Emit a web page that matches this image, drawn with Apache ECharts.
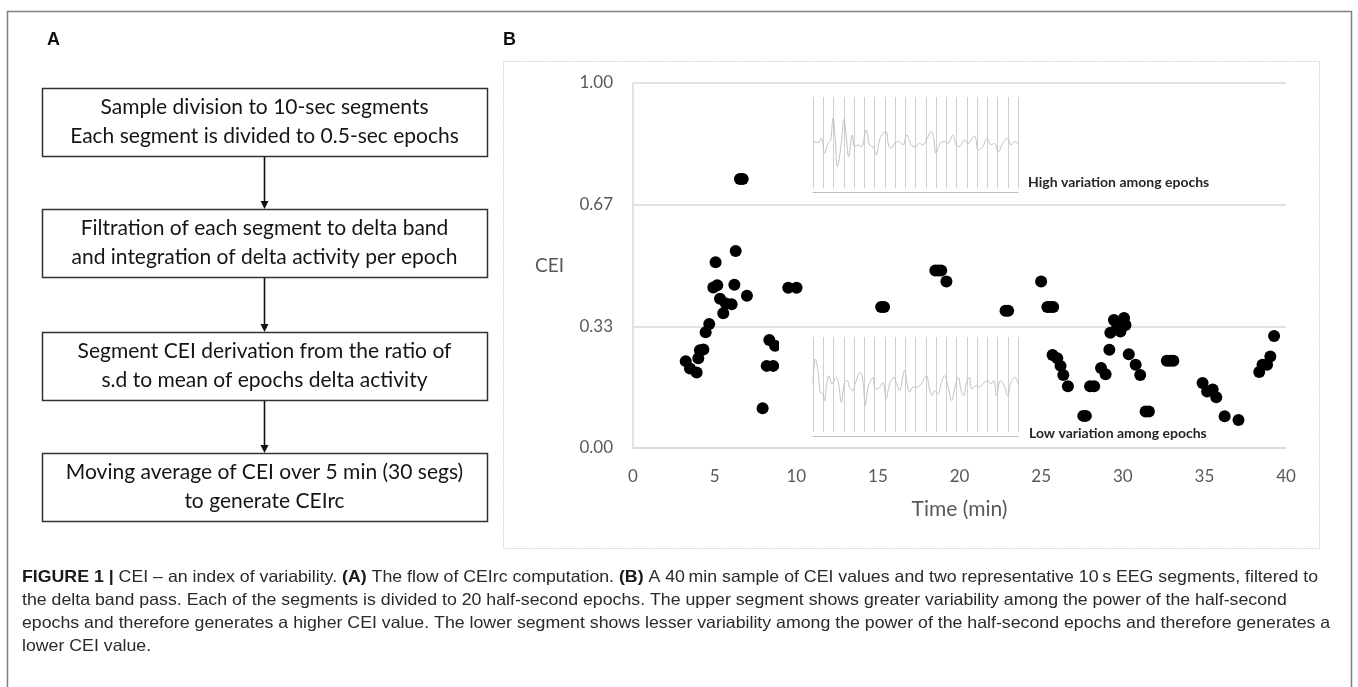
<!DOCTYPE html>
<html><head><meta charset="utf-8">
<script src="https://cdn.jsdelivr.net/npm/echarts@6/dist/echarts.min.js"></script>
<style>html,body{margin:0;padding:0;background:#fff}#c{width:1358px;height:687px}</style>
</head><body><div id="c"></div>
<script>
// ---------- DATA ----------
const yTickLabels = ['0.00', '0.33', '0.67', '1.00'];
const timeMin = [
  3.23, 3.49, 3.90, 4.00, 4.10, 4.31, 4.45, 4.67, 4.92, 5.16, 5.06, 5.33, 5.53, 5.69, 6.04, 6.21, 6.29, 6.98,
  6.55, 6.72,
  7.94, 8.19, 8.35, 8.59, 8.70,
  9.51, 10.02,
  15.20, 15.38,
  18.52, 18.70, 18.88, 19.20,
  22.82, 22.98,
  25.00, 25.38, 25.56, 25.74,
  25.70, 25.99, 26.19, 26.36, 26.64,
  27.58, 27.74,
  28.00, 28.25, 28.67, 28.95, 29.18, 29.24, 29.46, 29.66, 29.86, 30.08, 30.17, 30.37, 30.79, 31.07,
  31.40, 31.60,
  32.70, 32.90, 33.10,
  34.89, 35.17, 35.51, 35.73, 36.24, 37.09,
  38.36, 38.56, 38.84, 39.04, 39.27
];
const ceiValues = [
  0.238, 0.218, 0.207, 0.246, 0.268, 0.270, 0.317, 0.340, 0.440, 0.446, 0.509, 0.409, 0.369, 0.396, 0.394, 0.447, 0.540, 0.417,
  0.737, 0.737,
  0.109, 0.225, 0.296, 0.225, 0.280,
  0.439, 0.439,
  0.386, 0.386,
  0.486, 0.486, 0.486, 0.456,
  0.376, 0.376,
  0.456, 0.386, 0.386, 0.386,
  0.255, 0.246, 0.225, 0.200, 0.169,
  0.088, 0.088,
  0.169, 0.169, 0.219, 0.202, 0.269, 0.316, 0.351, 0.333, 0.319, 0.356, 0.337, 0.257, 0.228, 0.200,
  0.100, 0.100,
  0.239, 0.239, 0.239,
  0.178, 0.155, 0.160, 0.139, 0.087, 0.077,
  0.208, 0.228, 0.228, 0.251, 0.307
];
// inset waveforms (epoch position, amplitude)
const highVarEpoch = [0.00,0.49,0.81,1.14,1.46,1.72,1.95,2.18,2.37,2.76,3.02,3.28,3.47,3.83,4.06,4.38,4.71,5.19,5.52,5.84,6.17,6.49,6.82,7.14,7.37,7.63,8.02,8.44,8.77,9.16,9.58,9.97,10.39,10.71,11.14,11.53,11.79,12.01,12.40,12.82,13.15,13.64,13.96,14.29,14.77,15.10,15.75,16.14,16.56,16.98,17.37,17.69,18.08,18.51,18.99,19.32,19.71,20.00];
const highVarAmp = [0.3,0,1.3,-3.2,-0.2,0.8,7.3,0.8,-7.2,-0.2,7.0,0.8,-4.2,2.3,-1.2,-0.7,-1.2,3.8,-0.7,-1.2,-3.7,0.8,2.8,3.3,-0.7,-1.7,0,0.3,-0.7,2.3,-0.7,-1.2,-0.2,-0.7,1.3,3.3,0.8,-3.2,-0.2,0.3,-0.2,2.3,-0.7,-1.2,0.8,-0.2,2.0,-2.2,-1.2,1.3,-0.7,-0.2,-2.7,-0.2,1.3,-0.7,0.3,-0.4];
const lowVarEpoch = [0,0.23,0.49,0.71,0.97,1.14,1.30,1.56,1.85,2.27,2.50,2.76,3.08,3.34,3.57,3.90,4.12,4.61,4.87,5.10,5.36,5.62,5.84,6.10,6.49,6.82,7.14,7.47,7.89,8.12,8.44,8.93,9.19,9.42,9.74,10.06,10.55,11.04,11.36,11.59,11.85,12.18,12.50,12.82,13.15,13.54,13.80,14.19,14.45,14.71,14.94,15.26,15.49,15.91,16.23,16.56,17.05,17.37,17.63,17.92,18.28,18.67,18.99,19.32,19.71,20.00];
const lowVarAmp = [0,7.5,4.0,-2.5,-3.0,-5.0,-1.0,2.5,0,2.0,0,-5.5,0.5,1.0,-1.0,-2.0,0.2,3.5,1.0,-6.5,-1.0,1.0,2.0,-1.5,-1.0,0.5,-4.5,0,2.0,0.5,-2.0,4.0,0,-2.5,-1.0,-1.0,0,2.5,-1.5,-3.5,-2.0,-3.0,0,2.5,-0.5,-5.0,-1.5,2.0,-2.0,-3.5,0,2.0,-1.5,-0.5,-1.0,0,1.0,0,1.0,-3.5,1.0,-0.5,-3.5,0.5,2.0,0];
const insetLabels = ['High variation among epochs', 'Low variation among epochs'];
const flowSteps = [
  ['Sample division to 10-sec segments', 'Each segment is divided to 0.5-sec epochs'],
  ['Filtration of each segment to delta band', 'and integration of delta activity per epoch'],
  ['Segment CEI derivation from the ratio of', 's.d to mean of epochs delta activity'],
  ['Moving average of CEI over 5 min (30 segs)', 'to generate CEIrc']
];
const captionLines = [
  [[1, 'FIGURE 1 | '], [0, 'CEI \u2013 an index of variability. '], [1, '(A)'], [0, ' The flow of CEIrc computation. '], [1, '(B)'], [0, ' A 40\u2009min sample of CEI values and two representative 10\u2009s EEG segments, filtered to']],
  [[0, 'the delta band pass. Each of the segments is divided to 20 half-second epochs. The upper segment shows greater variability among the power of the half-second']],
  [[0, 'epochs and therefore generates a higher CEI value. The lower segment shows lesser variability among the power of the half-second epochs and therefore generates a']],
  [[0, 'lower CEI value.']]
];

// ---------- LAYOUT ----------
const chart = echarts.init(document.getElementById('c'), null, {renderer: 'canvas'});
const TICK = '#595959', GRID = '#d9d9d9', FONT = 'Lato';
const scatterData = timeMin.map((t, i) => [t, ceiValues[i]]);
const highData = highVarEpoch.map((e, i) => [e, highVarAmp[i]]);
const lowData = lowVarEpoch.map((e, i) => [e, lowVarAmp[i]]);

const graphics = [];
// outer frame
graphics.push({type: 'rect', shape: {x: 7.5, y: 11.5, width: 1344, height: 700}, style: {fill: 'none', stroke: '#808080', lineWidth: 1.5}, z: 0, silent: true});
graphics.push({type: 'text', x: 47, y: 40, style: {text: 'A', font: 'bold 18px "Liberation Sans", Arial', fill: '#111', verticalAlign: 'middle'}});
graphics.push({type: 'text', x: 503, y: 40, style: {text: 'B', font: 'bold 18px "Liberation Sans", Arial', fill: '#111', verticalAlign: 'middle'}});
// panel B box
graphics.push({type: 'rect', shape: {x: 503.5, y: 61.5, width: 816, height: 487}, style: {fill: 'none', stroke: '#d4d4d4', lineWidth: 1, lineDash: [2, 1]}, z: 0, silent: true});
// white background of lower inset image
graphics.push({type: 'rect', shape: {x: 779, y: 333, width: 243, height: 107}, style: {fill: '#fff'}, z: 4, silent: true});
graphics.push({type: 'text', x: 1028, y: 182, z: 8, style: {text: insetLabels[0], font: 'bold 14px Lato', fill: '#262626', verticalAlign: 'middle'}});
graphics.push({type: 'text', x: 1029, y: 433, z: 8, style: {text: insetLabels[1], font: 'bold 14px Lato', fill: '#262626', verticalAlign: 'middle'}});

// flowchart
const boxTops = [88, 209, 332, 453], boxH = 68, boxL = 42, boxR = 487, cx = 264.5;
flowSteps.forEach((lines, i) => {
  const t = boxTops[i];
  graphics.push({type: 'rect', shape: {x: boxL + 0.5, y: t + 0.5, width: boxR - boxL, height: boxH}, style: {fill: '#fff', stroke: '#333', lineWidth: 1.5}});
  lines.forEach((ln, j) => {
    graphics.push({type: 'text', x: cx, y: t + 19 + j * 29, style: {text: ln, font: '21px Lato', fill: '#151515', align: 'center', verticalAlign: 'middle'}});
  });
  if (i < flowSteps.length - 1) {
    const y0 = t + boxH + 1, y1 = boxTops[i + 1];
    graphics.push({type: 'line', shape: {x1: cx, y1: y0, x2: cx, y2: y1 - 6}, style: {stroke: '#111', lineWidth: 1.6}});
    graphics.push({type: 'polygon', shape: {points: [[cx - 4, y1 - 8], [cx + 4, y1 - 8], [cx, y1]]}, style: {fill: '#111'}});
  }
});

// caption (condensed via horizontal scaling)
const CAP_FS = 16.5;
const mctx = document.createElement('canvas').getContext('2d');
function segW(seg) { mctx.font = (seg[0] ? 'bold ' : '') + CAP_FS + 'px "Liberation Sans"'; return mctx.measureText(seg[1]).width; }
const line1W = captionLines[0].reduce((s, g) => s + segW(g), 0);
const capScale = 1296 / line1W;
const capChildren = captionLines.map((segs, i) => ({
  type: 'text', x: 0, y: 577 + i * 23.3,
  style: {
    text: segs.map(s => '{' + (s[0] ? 'b' : 'n') + '|' + s[1] + '}').join(''),
    verticalAlign: 'middle',
    rich: {
      b: {fontFamily: 'Liberation Sans', fontSize: CAP_FS, fontWeight: 'bold', fill: '#1a1a1a'},
      n: {fontFamily: 'Liberation Sans', fontSize: CAP_FS, fill: '#2a2a2a'}
    }
  }
}));
graphics.push({type: 'group', x: 22, y: 0, scaleX: capScale, children: capChildren});

const insetX = (gi) => ({
  gridIndex: gi, type: 'value', min: 0, max: 20, interval: 1, z: 6,
  axisLine: {show: true, onZero: false, lineStyle: {color: '#b0b0b0', type: 'dotted', width: 1}},
  offset: 4, axisTick: {show: false}, axisLabel: {show: false},
  splitLine: {show: true, lineStyle: {color: '#d0d0d0', width: 1}}
});

chart.setOption({
  animation: false,
  backgroundColor: '#fff',
  grid: [
    {left: 633, top: 83, width: 653, height: 365},
    {left: 813, top: 97, width: 205, height: 91},
    {left: 813, top: 337, width: 205, height: 95}
  ],
  xAxis: [
    {
      gridIndex: 0, type: 'value', min: 0, max: 40, interval: 5,
      axisLine: {show: true, lineStyle: {color: GRID, width: 1.5}},
      axisTick: {show: false}, splitLine: {show: false},
      axisLabel: {color: TICK, fontSize: 17, fontFamily: FONT, margin: 20},
      name: 'Time (min)', nameLocation: 'middle', nameGap: 51,
      nameTextStyle: {color: TICK, fontSize: 21, fontFamily: FONT}
    },
    insetX(1), insetX(2)
  ],
  yAxis: [
    {
      gridIndex: 0, type: 'value', min: 0, max: 1, interval: 1 / 3,
      axisLine: {show: true, lineStyle: {color: GRID, width: 1.5}},
      axisTick: {show: false},
      splitLine: {show: true, lineStyle: {color: GRID, width: 1.5}},
      axisLabel: {color: TICK, fontSize: 17, fontFamily: FONT, margin: 20, formatter: (v, i) => yTickLabels[i]},
      name: 'CEI', nameLocation: 'middle', nameRotate: 0, nameGap: 69,
      nameTextStyle: {color: TICK, fontSize: 19, fontFamily: FONT}
    },
    {gridIndex: 1, type: 'value', min: -13.6, max: 13.7, show: false},
    {gridIndex: 2, type: 'value', min: -14.4, max: 14.1, show: false}
  ],
  series: [
    {type: 'scatter', xAxisIndex: 0, yAxisIndex: 0, data: scatterData, symbolSize: 12, itemStyle: {color: '#000', opacity: 1}, z: 2, silent: true},
    {type: 'line', xAxisIndex: 1, yAxisIndex: 1, data: highData, smooth: 0.4, showSymbol: false, lineStyle: {color: '#c2c2c2', width: 1}, z: 7, silent: true},
    {type: 'line', xAxisIndex: 2, yAxisIndex: 2, data: lowData, smooth: 0.4, showSymbol: false, lineStyle: {color: '#c2c2c2', width: 1}, z: 7, silent: true}
  ],
  graphic: {elements: graphics}
});
</script>
</body></html>
